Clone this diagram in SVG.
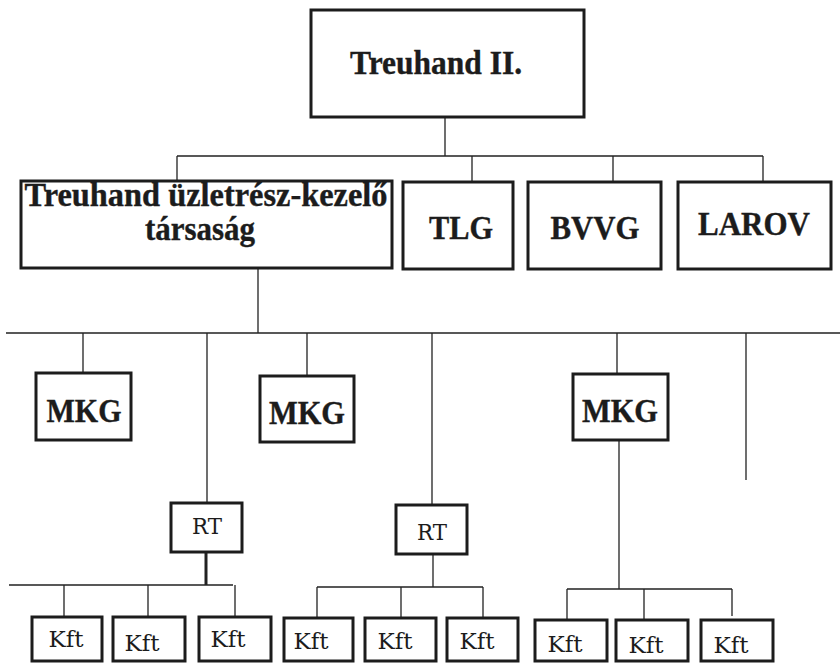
<svg xmlns="http://www.w3.org/2000/svg" width="840" height="663" viewBox="0 0 840 663">
<style>
.box{fill:#fff;stroke:#1c1c1c;stroke-width:3}
.ln{fill:none;stroke:#222;stroke-width:1.3}
.b{font-family:"Liberation Serif","Times New Roman",serif;font-weight:bold;font-size:34px;fill:#1c1c1c;text-anchor:middle;stroke:#1c1c1c;stroke-width:0.4}
.r{font-family:"DejaVu Serif","Liberation Serif",serif;font-size:22px;fill:#1c1c1c;text-anchor:middle}
</style>
<rect width="840" height="663" fill="#fff"/>
<g id="connectors">
<path class="ln" d="M445 117V156M177 156H763M177 156V181M472 156V182M613 156V182M763 156V182"/>
<path class="ln" d="M258 268V333M6 333H840M83 333V373M207 333V503M307 333V376M432 333V505M617 333V374M746 333V480"/>
<path class="ln" d="M619 440V589M567 589H732M567 589V620M644 589V620M732 589V616"/>
<path class="ln" d="M206 552V585" style="stroke-width:3"/>
<path class="ln" d="M9 585H233M64 585V617M148 585V617M235 585V617"/>
<path class="ln" d="M433 554V587M317 587H483M317 587V618M401 587V618M483 587V618"/>
</g>
<g id="treuhand2"><rect class="box" x="311" y="10" width="273" height="107"/><text class="b" x="436" y="74" textLength="172" lengthAdjust="spacingAndGlyphs">Treuhand II.</text></g>
<g id="tuk"><rect class="box" x="21" y="181" width="371" height="87"/><text class="b" x="206" y="206" font-size="30" textLength="363" lengthAdjust="spacingAndGlyphs">Treuhand üzletrész-kezelő</text><text class="b" x="200" y="240" font-size="30" textLength="110" lengthAdjust="spacingAndGlyphs">társaság</text></g>
<g id="tlg"><rect class="box" x="403" y="182" width="110" height="87"/><text class="b" x="461" y="239" textLength="64" lengthAdjust="spacingAndGlyphs">TLG</text></g>
<g id="bvvg"><rect class="box" x="528" y="182" width="133" height="87"/><text class="b" x="595" y="239" textLength="89" lengthAdjust="spacingAndGlyphs">BVVG</text></g>
<g id="larov"><rect class="box" x="678" y="182" width="153" height="87"/><text class="b" x="754" y="235" textLength="112" lengthAdjust="spacingAndGlyphs">LAROV</text></g>
<g id="mkg1"><rect class="box" x="36" y="373" width="95" height="67"/><text class="b" x="84" y="422" textLength="75" lengthAdjust="spacingAndGlyphs">MKG</text></g>
<g id="mkg2"><rect class="box" x="260" y="376" width="94" height="66"/><text class="b" x="307" y="424" textLength="76" lengthAdjust="spacingAndGlyphs">MKG</text></g>
<g id="mkg3"><rect class="box" x="573" y="374" width="95" height="66"/><text class="b" x="620" y="422" textLength="76" lengthAdjust="spacingAndGlyphs">MKG</text></g>
<g id="rt1"><rect class="box" x="171" y="503" width="71" height="49"/><text class="r" x="207" y="534" textLength="30" lengthAdjust="spacingAndGlyphs">RT</text></g>
<g id="rt2"><rect class="box" x="396" y="505" width="71" height="49"/><text class="r" x="432" y="540" textLength="30" lengthAdjust="spacingAndGlyphs">RT</text></g>
<g id="kft1"><rect class="box" x="32" y="617" width="70" height="44"/><text class="r" x="66" y="647" textLength="35" lengthAdjust="spacingAndGlyphs">Kft</text></g>
<g id="kft2"><rect class="box" x="113" y="617" width="72" height="44"/><text class="r" x="142" y="651" textLength="35" lengthAdjust="spacingAndGlyphs">Kft</text></g>
<g id="kft3"><rect class="box" x="199" y="617" width="72" height="44"/><text class="r" x="228" y="647" textLength="35" lengthAdjust="spacingAndGlyphs">Kft</text></g>
<g id="kft4"><rect class="box" x="284" y="618" width="69" height="43"/><text class="r" x="311" y="649" textLength="35" lengthAdjust="spacingAndGlyphs">Kft</text></g>
<g id="kft5"><rect class="box" x="365" y="618" width="71" height="43"/><text class="r" x="395" y="649" textLength="35" lengthAdjust="spacingAndGlyphs">Kft</text></g>
<g id="kft6"><rect class="box" x="447" y="618" width="71" height="43"/><text class="r" x="477" y="649" textLength="35" lengthAdjust="spacingAndGlyphs">Kft</text></g>
<g id="kft7"><rect class="box" x="535" y="620" width="72" height="41"/><text class="r" x="565" y="652" textLength="35" lengthAdjust="spacingAndGlyphs">Kft</text></g>
<g id="kft8"><rect class="box" x="616" y="620" width="72" height="41"/><text class="r" x="646" y="653" textLength="35" lengthAdjust="spacingAndGlyphs">Kft</text></g>
<g id="kft9"><rect class="box" x="701" y="620" width="72" height="41"/><text class="r" x="731" y="653" textLength="35" lengthAdjust="spacingAndGlyphs">Kft</text></g>
</svg>
